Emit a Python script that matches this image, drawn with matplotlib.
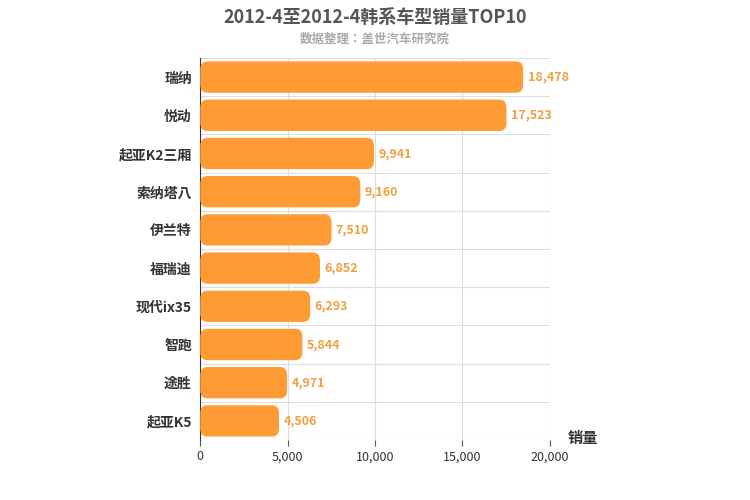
import matplotlib
matplotlib.use("Agg")
import matplotlib.pyplot as plt
from matplotlib.patches import FancyBboxPatch
from matplotlib import font_manager as fm

cjk = []
for f in fm.findSystemFonts():
    if "CJK" in f or "cjk" in f.lower():
        try:
            fm.fontManager.addfont(f)
            name = fm.FontProperties(fname=f).get_name()
            if name not in cjk:
                cjk.append(name)
        except Exception:
            pass
plt.rcParams['font.family'] = ['Noto Sans CJK SC', 'Noto Sans CJK JP', 'Noto Sans CJK TC'] + cjk + ['DejaVu Sans']

categories = ["瑞纳", "悦动", "起亚K2三厢", "索纳塔八", "伊兰特", "福瑞迪", "现代ix35", "智跑", "途胜", "起亚K5"]
values = [18478, 17523, 9941, 9160, 7510, 6852, 6293, 5844, 4971, 4506]
xticks = [0, 5000, 10000, 15000, 20000]

fig = plt.figure(figsize=(7.5, 5), dpi=100)
ax = fig.add_axes([0.267, 0.12, 0.466, 0.764])
n = len(categories)
ax.set_xlim(0, 20000)
ax.set_ylim(n - 0.5, -0.5)
h = 0.82
for i, v in enumerate(values):
    p = FancyBboxPatch((0, i - h / 2), v, h, boxstyle="round,pad=0,rounding_size=400",
                       mutation_aspect=0.000525, fc="#ff9b35", ec="none", zorder=3)
    ax.add_patch(p)
    ax.text(v + 250, i, f"{v:,}", va="center", ha="left", fontsize=9,
            color="#f0a040", fontweight="bold", zorder=4)
ax.set_yticks(range(n))
ax.set_yticklabels(categories, fontsize=10, fontweight="bold", color="#333")
ax.set_xticks(xticks)
ax.set_xticklabels([f"{t:,}" for t in xticks], fontsize=9, color="#333")
ax.set_yticks([i + 0.5 for i in range(-1, n)], minor=True)
ax.grid(True, axis="x", color="#dddddd", lw=0.8, zorder=0)
ax.grid(True, axis="y", which="minor", color="#dddddd", lw=0.8, zorder=0)
ax.tick_params(axis="y", which="both", length=0, pad=6)
ax.tick_params(axis="x", length=4, color="#555")
for s in ["top", "right"]:
    ax.spines[s].set_visible(False)
ax.spines["bottom"].set_visible(False)
ax.spines["left"].set_color("#333")
fig.text(0.777, 0.115, "销量", fontsize=11, fontweight="bold", color="#333", ha="center")
fig.text(0.5, 0.965, "2012-4至2012-4韩系车型销量TOP10", fontsize=13, fontweight="bold",
         color="#555", ha="center", va="center")
fig.text(0.5, 0.922, "数据整理：盖世汽车研究院", fontsize=9, fontweight="bold",
         color="#aaaaaa", ha="center", va="center")
fig.savefig("out.png", dpi=100)
